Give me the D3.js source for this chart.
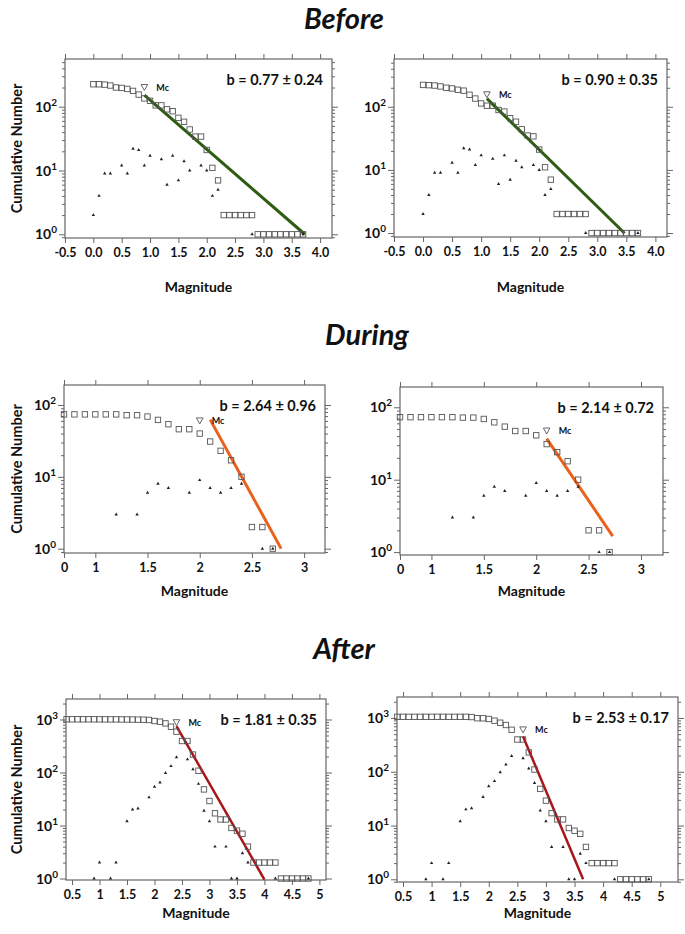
<!DOCTYPE html>
<html><head><meta charset="utf-8">
<script src="https://cdn.jsdelivr.net/npm/d3@7"></script>
<style>
body{margin:0;background:#fff}
svg{display:block}
text{font-family:Lato,'Open Sans',sans-serif;font-weight:bold;fill:#111}
</style>
</head><body>
<svg id="chart" width="685" height="934"></svg>
<script>
// ---------------- DATA ----------------
const sectionTitles = ["Before", "During", "After"];
const bLabels = ["b = 0.77 \u00b1 0.24", "b = 0.90 \u00b1 0.35", "b = 2.64 \u00b1 0.96", "b = 2.14 \u00b1 0.72", "b = 1.81 \u00b1 0.35", "b = 2.53 \u00b1 0.17"];

// cumulative number (magnitude, count)
const beforeLeftCum = [[0.0,225],[0.1,225],[0.2,222],[0.3,215],[0.4,200],[0.5,197],[0.6,190],[0.7,177],[0.8,155],[0.9,135],[1.0,124],[1.1,105],[1.2,105],[1.3,91],[1.4,85],[1.5,67],[1.6,58],[1.7,44],[1.8,34],[1.9,34],[2.0,21],[2.1,11],[2.2,7],[2.3,2],[2.4,2],[2.5,2],[2.6,2],[2.7,2],[2.8,2],[2.9,1],[3.0,1],[3.1,1],[3.2,1],[3.3,1],[3.4,1],[3.5,1],[3.6,1],[3.7,1]];
const beforeLeftNon = [[0.0,2],[0.1,4],[0.2,9],[0.3,9],[0.5,12],[0.6,9],[0.7,22],[0.8,21],[0.9,12],[1.0,17],[1.2,15],[1.3,6],[1.4,17],[1.5,7],[1.6,14],[1.7,10],[1.9,12],[2.0,10],[2.1,4],[2.2,5],[2.8,1],[3.7,1]];

const beforeRightCum = [[0.0,222],[0.1,220],[0.2,217],[0.3,210],[0.4,200],[0.5,195],[0.6,186],[0.7,180],[0.8,155],[0.9,135],[1.0,113],[1.1,104],[1.2,104],[1.3,89],[1.4,84],[1.5,66],[1.6,58],[1.7,44],[1.8,35],[1.9,34],[2.0,21],[2.1,11],[2.2,7],[2.3,2],[2.4,2],[2.5,2],[2.6,2],[2.7,2],[2.8,2],[2.9,1],[3.0,1],[3.1,1],[3.2,1],[3.3,1],[3.4,1],[3.5,1],[3.6,1],[3.7,1]];
const beforeRightNon = [[0.0,2],[0.1,4],[0.2,9],[0.3,9],[0.5,13],[0.6,9],[0.7,22],[0.8,21],[0.9,12],[1.0,17],[1.2,15],[1.3,6],[1.4,17],[1.5,7],[1.6,14],[1.7,11],[1.9,12],[2.0,10],[2.1,4],[2.2,5],[2.8,1],[3.7,1]];

const duringLeftCum = [[0.7,74],[0.8,74],[0.9,74],[1.0,74],[1.1,74],[1.2,74],[1.3,72],[1.4,72],[1.5,69],[1.6,62],[1.7,54],[1.8,46],[1.9,46],[2.0,40],[2.1,31],[2.2,23],[2.3,17],[2.4,10],[2.5,2],[2.6,2],[2.7,1]];
const duringLeftNon = [[1.2,3],[1.4,3],[1.5,6],[1.6,8],[1.7,7],[1.9,6],[2.0,9],[2.1,7],[2.2,6],[2.3,7],[2.4,8],[2.6,1],[2.7,1]];

const duringRightCum = [[0.7,73],[0.8,73],[0.9,73],[1.0,73],[1.1,73],[1.2,73],[1.3,72],[1.4,72],[1.5,69],[1.6,62],[1.7,54],[1.8,47],[1.9,47],[2.0,41],[2.1,31],[2.2,24],[2.3,18],[2.4,10],[2.5,2],[2.6,2],[2.7,1]];
const duringRightNon = [[1.2,3],[1.4,3],[1.5,6],[1.6,8],[1.7,7],[1.9,6],[2.0,9],[2.1,7],[2.2,6],[2.3,7],[2.4,8],[2.6,1],[2.7,1]];

const afterLeftCum = [[0.4,1010],[0.5,1010],[0.6,1010],[0.7,1010],[0.8,1010],[0.9,1009],[1.0,1008],[1.1,1006],[1.2,1006],[1.3,1005],[1.4,1003],[1.5,1002],[1.6,998],[1.7,995],[1.8,990],[1.9,980],[2.0,937],[2.1,910],[2.2,845],[2.3,731],[2.4,590],[2.5,393],[2.6,393],[2.7,218],[2.8,108],[2.9,48],[3.0,29],[3.1,17],[3.2,13],[3.3,13],[3.4,9],[3.5,8],[3.6,7],[3.7,4],[3.8,2],[3.9,2],[4.0,2],[4.1,2],[4.2,2],[4.3,1],[4.4,1],[4.5,1],[4.6,1],[4.7,1],[4.8,1]];
const afterLeftNon = [[0.9,1],[1.0,2],[1.2,1],[1.3,2],[1.5,12],[1.6,20],[1.7,21],[1.9,34],[2.0,54],[2.1,65],[2.2,98],[2.3,132],[2.4,194],[2.6,177],[2.7,115],[2.8,61],[2.9,19],[3.0,12],[3.1,4],[3.3,4],[3.4,1],[3.5,1],[3.6,3],[3.7,2],[4.2,1],[4.8,1]];

const afterRightCum = [[0.4,1050],[0.5,1050],[0.6,1050],[0.7,1050],[0.8,1050],[0.9,1050],[1.0,1050],[1.1,1050],[1.2,1050],[1.3,1050],[1.4,1050],[1.5,1050],[1.6,1050],[1.7,1040],[1.8,990],[1.9,987],[2.0,958],[2.1,890],[2.2,816],[2.3,740],[2.4,603],[2.5,398],[2.6,398],[2.7,229],[2.8,110],[2.9,48],[3.0,29],[3.1,17],[3.2,13],[3.3,13],[3.4,9],[3.5,8],[3.6,7],[3.7,4],[3.8,2],[3.9,2],[4.0,2],[4.1,2],[4.2,2],[4.3,1],[4.4,1],[4.5,1],[4.6,1],[4.7,1],[4.8,1]];
const afterRightNon = [[0.9,1],[1.0,2],[1.2,1],[1.3,2],[1.5,12],[1.6,20],[1.7,21],[1.9,34],[2.0,54],[2.1,67],[2.2,98],[2.3,137],[2.4,196],[2.6,178],[2.7,115],[2.8,62],[2.9,19],[3.0,12],[3.1,4],[3.3,4],[3.4,1],[3.5,1],[3.6,3],[3.7,2],[4.2,1],[4.8,1]];

// magnitude of completeness (Mc) marker: [magnitude, level]
const mcMarkers = [[0.9,200],[1.1,155],[2.0,60],[2.1,47],[2.4,870],[2.6,600]];
// Gutenberg-Richter fit: log10 N = a - b M, drawn from M1 to M2
const fitA = [2.873, 3.12, 7.34, 6.062, 7.22, 9.235];
const fitB = [0.77, 0.90, 2.64, 2.14, 1.81, 2.53];
const fitFrom = [0.9, 1.1, 2.1, 2.1, 2.4, 2.6];
const fitTo = [3.73, 3.47, 2.78, 2.73, 4.0, 3.65];

// tick values / labels
const beforeXTicks = [-0.5,0,0.5,1,1.5,2,2.5,3,3.5,4];
const beforeXLabels = ["-0.5","0.0","0.5","1.0","1.5","2.0","2.5","3.0","3.5","4.0"];
const duringXTicks = [0.7,1,1.5,2,2.5,3];
const duringXLabels = ["0","1","1.5","2","2.5","3"];
const afterXTicks = [0.5,1,1.5,2,2.5,3,3.5,4,4.5,5];
const afterXLabels = ["0.5","1","1.5","2","2.5","3","3.5","4","4.5","5"];
const beforeYExp = [0,1,2];
const duringYExp = [0,1,2];
const afterYExp = [0,1,2,3];

// ---------------- LAYOUT ----------------
const panels = [
  {cum:beforeLeftCum, non:beforeLeftNon, box:[65,332,59,238], xd:[-0.5,4.21], yd:[-0.058,2.748], xt:beforeXTicks, xl:beforeXLabels, ye:beforeYExp, color:"#2e5c12", lw:3, ytitle:true, tOff:54},
  {cum:beforeRightCum, non:beforeRightNon, box:[394,667,59,237], xd:[-0.5,4.2], yd:[-0.063,2.757], xt:beforeXTicks, xl:beforeXLabels, ye:beforeYExp, color:"#2e5c12", lw:3, tOff:55},
  {cum:duringLeftCum, non:duringLeftNon, box:[64,325,385,553], xd:[0.7,3.2], yd:[-0.06,2.278], xt:duringXTicks, xl:duringXLabels, ye:duringYExp, color:"#ea611c", lw:3, ytitle:true, tOff:43},
  {cum:duringRightCum, non:duringRightNon, box:[400,663,387,555], xd:[0.7,3.21], yd:[-0.04,2.28], xt:duringXTicks, xl:duringXLabels, ye:duringYExp, color:"#ea611c", lw:3, tOff:41},
  {cum:afterLeftCum, non:afterLeftNon, box:[66,326,699,880], xd:[0.39,5.12], yd:[-0.028,3.387], xt:afterXTicks, xl:afterXLabels, ye:afterYExp, color:"#a8161a", lw:2.5, ytitle:true, tOff:38},
  {cum:afterRightCum, non:afterRightNon, box:[397,678,697,882], xd:[0.395,5.31], yd:[-0.05,3.39], xt:afterXTicks, xl:afterXLabels, ye:afterYExp, color:"#a8161a", lw:2.5, tOff:36}
];
const titleX = [344, 367, 344];
const titleY = [29, 345, 659];

const svg = d3.select("#chart");
svg.append("rect").attr("width",685).attr("height",934).attr("fill","#fff");

sectionTitles.forEach((t,i)=>{
  svg.append("text").attr("x",titleX[i]).attr("y",titleY[i]).attr("text-anchor","middle")
    .style("font-size","29px").style("font-style","italic").text(t);
});

const axisCol = "#666";

panels.forEach((p,i)=>{
  const [L,R,T,B] = p.box;
  const x = d3.scaleLinear().domain(p.xd).range([L,R]);
  const y = d3.scaleLog().domain([Math.pow(10,p.yd[0]), Math.pow(10,p.yd[1])]).range([B,T]);
  const g = svg.append("g");

  const major = p.ye.map(e=>Math.pow(10,e)).filter(v=>v>=y.domain()[0]&&v<=y.domain()[1]);
  const minor = [];
  for (let e=Math.floor(p.yd[0]); e<=Math.ceil(p.yd[1]); e++){
    for (let k=2;k<=9;k++){ const v=k*Math.pow(10,e); if(v>=y.domain()[0]&&v<=y.domain()[1]) minor.push(v); }
  }
  const styleAxis = sel => { sel.select(".domain").remove(); sel.selectAll("line").attr("stroke",axisCol); sel.selectAll("text").remove(); };
  g.append("g").attr("transform",`translate(${L},0)`).call(d3.axisLeft(y).tickValues(major).tickSize(6).tickFormat("")).call(styleAxis);
  g.append("g").attr("transform",`translate(${L},0)`).call(d3.axisLeft(y).tickValues(minor).tickSize(3).tickFormat("")).call(styleAxis);
  g.append("g").attr("transform",`translate(${R},0)`).call(d3.axisRight(y).tickValues(major).tickSize(6).tickFormat("")).call(styleAxis);
  g.append("g").attr("transform",`translate(${R},0)`).call(d3.axisRight(y).tickValues(minor).tickSize(3).tickFormat("")).call(styleAxis);
  g.append("g").attr("transform",`translate(0,${T})`).call(d3.axisTop(x).tickValues(p.xt).tickSize(5).tickFormat("")).call(styleAxis);
  const xb = g.append("g").attr("transform",`translate(0,${B})`).call(d3.axisBottom(x).tickValues(p.xt).tickSize(5).tickFormat((d,j)=>p.xl[j]));
  xb.select(".domain").remove();
  xb.selectAll("line").attr("stroke",axisCol);
  xb.selectAll("text").attr("y",10).style("font-size","12.5px").style("font-family","Lato,sans-serif").style("font-weight","bold").attr("fill","#111");

  major.forEach(v=>{
    const e = Math.round(Math.log10(v));
    const t = g.append("text").attr("x",L-8).attr("y",y(v)+5).attr("text-anchor","end").style("font-size","14px");
    t.append("tspan").text("10");
    t.append("tspan").attr("dy",-6).style("font-size","10px").text(String(e));
  });

  g.append("rect").attr("x",L).attr("y",T).attr("width",R-L).attr("height",B-T).attr("fill","none").attr("stroke",axisCol).attr("stroke-width",1.2);

  const fl = [fitFrom[i], fitTo[i]].map(m=>[m, Math.pow(10, fitA[i]-fitB[i]*m)]);
  g.append("path").attr("d", d3.line().x(d=>x(d[0])).y(d=>y(d[1]))(fl))
    .attr("stroke",p.color).attr("stroke-width",p.lw).attr("fill","none");

  g.selectAll(".sq").data(p.cum).join("rect")
    .attr("x",d=>x(d[0])-2.7).attr("y",d=>y(d[1])-2.7).attr("width",5.4).attr("height",5.4)
    .attr("fill","none").attr("stroke","#555").attr("stroke-width",0.9);

  g.selectAll(".tr").data(p.non).join("path")
    .attr("transform",d=>`translate(${x(d[0])},${y(d[1])})`)
    .attr("d", d3.symbol().type(d3.symbolTriangle).size(5)())
    .attr("fill","#222");

  const mc = mcMarkers[i];
  const mx = x(mc[0]), my = y(mc[1]);
  g.append("path").attr("d",`M${mx-3.3},${my-3} L${mx+3.3},${my-3} L${mx},${my+3} Z`)
    .attr("fill","none").attr("stroke","#555").attr("stroke-width",0.9);
  g.append("text").attr("x",mx+12).attr("y",my+3).style("font-size","9px").text("Mc");

  g.append("text").attr("x",R-9).attr("y",T+26).attr("text-anchor","end").style("font-size","14.5px").text(bLabels[i]);

  g.append("text").attr("x",(L+R)/2).attr("y",B+p.tOff).attr("text-anchor","middle").style("font-size","14px").text("Magnitude");
  if (p.ytitle){
    g.append("text").attr("transform",`translate(22,${(T+B)/2}) rotate(-90)`).attr("text-anchor","middle").style("font-size","14.5px").text("Cumulative Number");
  }
});
</script>
</body></html>
